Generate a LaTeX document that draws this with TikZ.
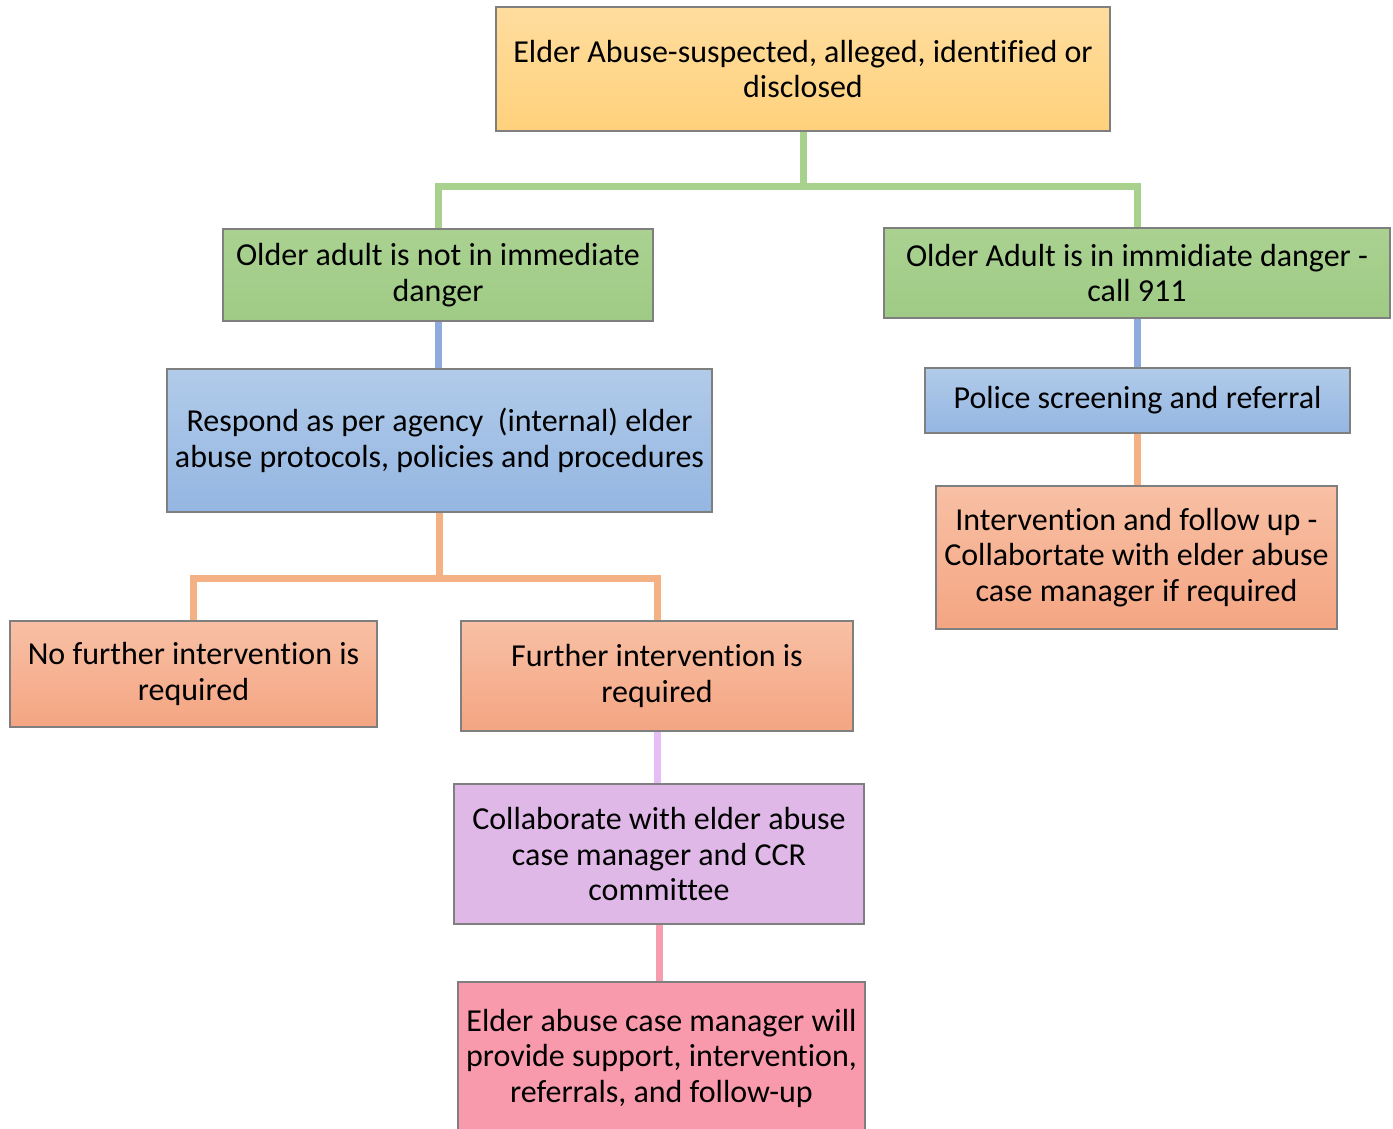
\documentclass[tikz,border=0pt]{standalone}
\usepackage{fontspec}
\setmainfont{Carlito}[Ligatures=NoCommon]
\definecolor{bordc}{HTML}{7F7F7F}
\definecolor{ytop}{HTML}{FFDD9E}
\definecolor{ybot}{HTML}{FFD17C}
\definecolor{gtop}{HTML}{AAD190}
\definecolor{gbot}{HTML}{9FCB86}
\definecolor{btop}{HTML}{B1CBE9}
\definecolor{bbot}{HTML}{94B6E2}
\definecolor{otop}{HTML}{F8C0A5}
\definecolor{obot}{HTML}{F4A582}
\definecolor{pfill}{HTML}{DFB8E7}
\definecolor{kfill}{HTML}{F99AAC}
\definecolor{gline}{HTML}{A9D18E}
\definecolor{bline}{HTML}{8FAADC}
\definecolor{oline}{HTML}{F4B183}
\definecolor{pline}{HTML}{E6BDF6}
\definecolor{kline}{HTML}{F79DB0}
\tikzset{
  box/.style={draw=bordc, line width=1.2pt, rectangle, inner sep=0pt, align=center,
    font=\fontsize{32}{35.5}\selectfont},
  ybox/.style={box, top color=ytop, bottom color=ybot},
  gbox/.style={box, top color=gtop, bottom color=gbot},
  bbox/.style={box, top color=btop, bottom color=bbot},
  obox/.style={box, top color=otop, bottom color=obot},
  pbox/.style={box, fill=pfill},
  kbox/.style={box, fill=kfill},
  conn/.style={line width=7pt},
}
\begin{document}
\begin{tikzpicture}[x=1pt,y=-1pt]
\useasboundingbox (0,0) rectangle (1393,1128);
\fill[white] (0,0) rectangle (1393,1128);

\node[ybox, minimum width=614pt, minimum height=124pt] (top) at (803,69)
  {Elder Abuse-suspected, alleged, identified or\\disclosed};
\node[gbox, minimum width=430pt, minimum height=92pt] (lg) at (438,275)
  {Older adult is not in immediate\\danger};
\node[gbox, minimum width=506pt, minimum height=90pt] (rg) at (1137,273)
  {Older Adult is in immidiate danger -\\call 911};
\node[bbox, minimum width=545pt, minimum height=143pt] (lb) at (439.5,440.5)
  {Respond as per agency\ \ (internal) elder\\abuse protocols, policies and procedures};
\node[bbox, minimum width=425pt, minimum height=65pt] (rb) at (1137.5,400.5)
  {Police screening and referral};
\node[obox, minimum width=401pt, minimum height=143pt] (ro) at (1136.5,557.5)
  {Intervention and follow up -\\Collabortate with elder abuse\\case manager if required};
\node[obox, minimum width=367pt, minimum height=106pt] (lo1) at (193.5,674)
  {No further intervention is\\required};
\node[obox, minimum width=392pt, minimum height=110pt] (lo2) at (657,676)
  {Further intervention is\\required};
\node[pbox, minimum width=410pt, minimum height=140pt] (pu) at (659,854)
  {Collaborate with elder abuse\\case manager and CCR\\committee};
\node[kbox, minimum width=407pt, minimum height=152pt] (pk) at (661.5,1058)
  {Elder abuse case manager will\\provide support, intervention,\\referrals, and follow-up};

\draw[conn, gline] (top.south) -- ++(0,55) coordinate (gj);
\draw[conn, gline] (lg.north) |- (gj) -| (rg.north);
\draw[conn, bline] (lg.south) -- (lg.south |- lb.north);
\draw[conn, bline] (rg.south) -- (rg.south |- rb.north);
\draw[conn, oline] (rb.south) -- (rb.south |- ro.north);
\draw[conn, oline] (lb.south) -- ++(0,66) coordinate (oj);
\draw[conn, oline] (lo1.north) |- (oj) -| (lo2.north);
\draw[conn, pline] (lo2.south) -- (lo2.south |- pu.north);
\draw[conn, kline] (pu.south) -- (pu.south |- pk.north);
\end{tikzpicture}
\end{document}
